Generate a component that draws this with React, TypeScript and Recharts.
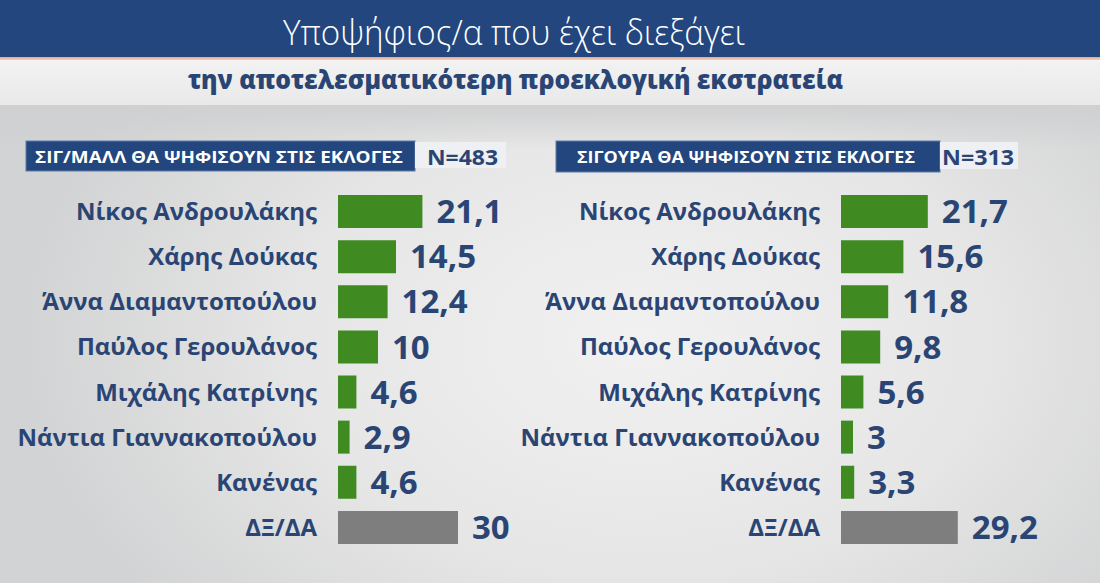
import React from 'react';
import { BarChart, Bar, XAxis, YAxis, LabelList, Cell } from 'recharts';

const categories = [
  'Νίκος Ανδρουλάκης',
  'Χάρης Δούκας',
  'Άννα Διαμαντοπούλου',
  'Παύλος Γερουλάνος',
  'Μιχάλης Κατρίνης',
  'Νάντια Γιαννακοπούλου',
  'Κανένας',
  'ΔΞ/ΔΑ',
];
const leftValues = [21.1, 14.5, 12.4, 10, 4.6, 2.9, 4.6, 30];
const rightValues = [21.7, 15.6, 11.8, 9.8, 5.6, 3, 3.3, 29.2];

const titleText = 'Υποψήφιος/α που έχει διεξάγει';
const subtitleText = 'την αποτελεσματικότερη προεκλογική εκστρατεία';
const leftHeader = 'ΣΙΓ/ΜΑΛΛ ΘΑ ΨΗΦΙΣΟΥΝ ΣΤΙΣ ΕΚΛΟΓΕΣ';
const leftN = 'N=483';
const rightHeader = 'ΣΙΓΟΥΡΑ ΘΑ ΨΗΦΙΣΟΥΝ ΣΤΙΣ ΕΚΛΟΓΕΣ';
const rightN = 'N=313';

const NAVY = '#22467d';
const TEXT = '#2a4574';
const GREEN = '#3f8a21';
const GREY = '#7e7e7e';
const FONT = '"Open Sans", "Noto Sans", sans-serif';

function Panel({ values, left, axisWidth }: { values: number[]; left: number; axisWidth: number }) {
  const data = categories.map((name, i) => ({ name, value: values[i] }));
  return (
    <div style={{ position: 'absolute', left, top: 189 }}>
      <BarChart
        width={axisWidth + 160 + 99}
        height={361}
        data={data}
        layout="vertical"
        margin={{ top: 0, right: 99, bottom: 0, left: 0 }}
      >
        <XAxis type="number" domain={[0, 40]} hide />
        <YAxis
          type="category"
          dataKey="name"
          width={axisWidth}
          axisLine={false}
          tickLine={false}
          tickSize={0}
          tickMargin={21}
          interval={0}
          tick={{ fill: TEXT, fontSize: 24, fontWeight: 700, fontFamily: FONT }}
        />
        <Bar dataKey="value" barSize={33} isAnimationActive={false}>
          {data.map((d, i) => (
            <Cell key={d.name} fill={i === data.length - 1 ? GREY : GREEN} />
          ))}
          <LabelList
            dataKey="value"
            position="right"
            offset={14}
            fill={TEXT}
            fontSize={33}
            fontWeight={700}
            fontFamily={FONT}
            formatter={(v: any) => String(v).replace('.', ',')}
          />
        </Bar>
      </BarChart>
    </div>
  );
}

export default function App() {
  return (
    <div
      style={{
        position: 'absolute',
        left: 0,
        top: 0,
        width: 1100,
        height: 583,
        overflow: 'hidden',
        fontFamily: FONT,
        background:
          'radial-gradient(ellipse 620px 420px at 640px 340px, #f1f1f1 0%, #e6e6e6 55%, #d2d3d4 100%)',
      }}
    >
      <svg width={1100} height={180} style={{ position: 'absolute', left: 0, top: 0 }}>
        <defs>
          <linearGradient id="band" x1="0" y1="0" x2="0" y2="1">
            <stop offset="0" stopColor="#f2f2f2" />
            <stop offset="1" stopColor="#e9e9e9" />
          </linearGradient>
          <linearGradient id="orange" x1="0" y1="0" x2="0" y2="1">
            <stop offset="0" stopColor="#f0a27e" />
            <stop offset="1" stopColor="#f5d2c0" />
          </linearGradient>
          <linearGradient id="under" x1="0" y1="0" x2="0" y2="1">
            <stop offset="0" stopColor="#cfd0d1" />
            <stop offset="1" stopColor="#cfd0d1" stopOpacity={0} />
          </linearGradient>
        </defs>
        <rect x={0} y={105} width={1100} height={45} fill="url(#under)" />
        <rect x={0} y={0} width={1100} height={57} fill={NAVY} />
        <rect x={0} y={57} width={1100} height={3} fill="url(#orange)" />
        <rect x={0} y={60} width={1100} height={45} fill="url(#band)" />
        <text
          x={283}
          y={45}
          fill="#ffffff"
          fontSize={34}
          fontWeight={300}
          fontFamily={FONT}
          textLength={462}
          lengthAdjust="spacingAndGlyphs"
        >
          {titleText}
        </text>
        <text
          x={188}
          y={89}
          fill={TEXT}
          fontSize={26}
          fontWeight={800}
          fontFamily={FONT}
          textLength={655}
          lengthAdjust="spacingAndGlyphs"
        >
          {subtitleText}
        </text>

        <rect x={26} y={141} width={389} height={30} fill={NAVY} stroke="#5d7aa6" strokeWidth={1} />
        <rect x={415} y={142} width={91} height={26} fill="#eef0f3" />
        <text
          x={35}
          y={163}
          fill="#ffffff"
          fontSize={16}
          fontWeight={700}
          fontFamily={FONT}
          textLength={368}
          lengthAdjust="spacingAndGlyphs"
        >
          {leftHeader}
        </text>
        <text
          x={427}
          y={165}
          fill={TEXT}
          fontSize={21}
          fontWeight={700}
          fontFamily={FONT}
          textLength={71}
          lengthAdjust="spacingAndGlyphs"
        >
          {leftN}
        </text>

        <rect x={556} y={141} width={384} height={31} fill={NAVY} stroke="#5d7aa6" strokeWidth={1} />
        <rect x={940} y={142} width={78} height={27} fill="#eef0f3" />
        <text
          x={577}
          y={163}
          fill="#ffffff"
          fontSize={16}
          fontWeight={700}
          fontFamily={FONT}
          textLength={338}
          lengthAdjust="spacingAndGlyphs"
        >
          {rightHeader}
        </text>
        <text
          x={942}
          y={165}
          fill={TEXT}
          fontSize={21}
          fontWeight={700}
          fontFamily={FONT}
          textLength={72}
          lengthAdjust="spacingAndGlyphs"
        >
          {rightN}
        </text>
      </svg>

      <Panel values={leftValues} left={0} axisWidth={338} />
      <Panel values={rightValues} left={490} axisWidth={351} />
    </div>
  );
}
